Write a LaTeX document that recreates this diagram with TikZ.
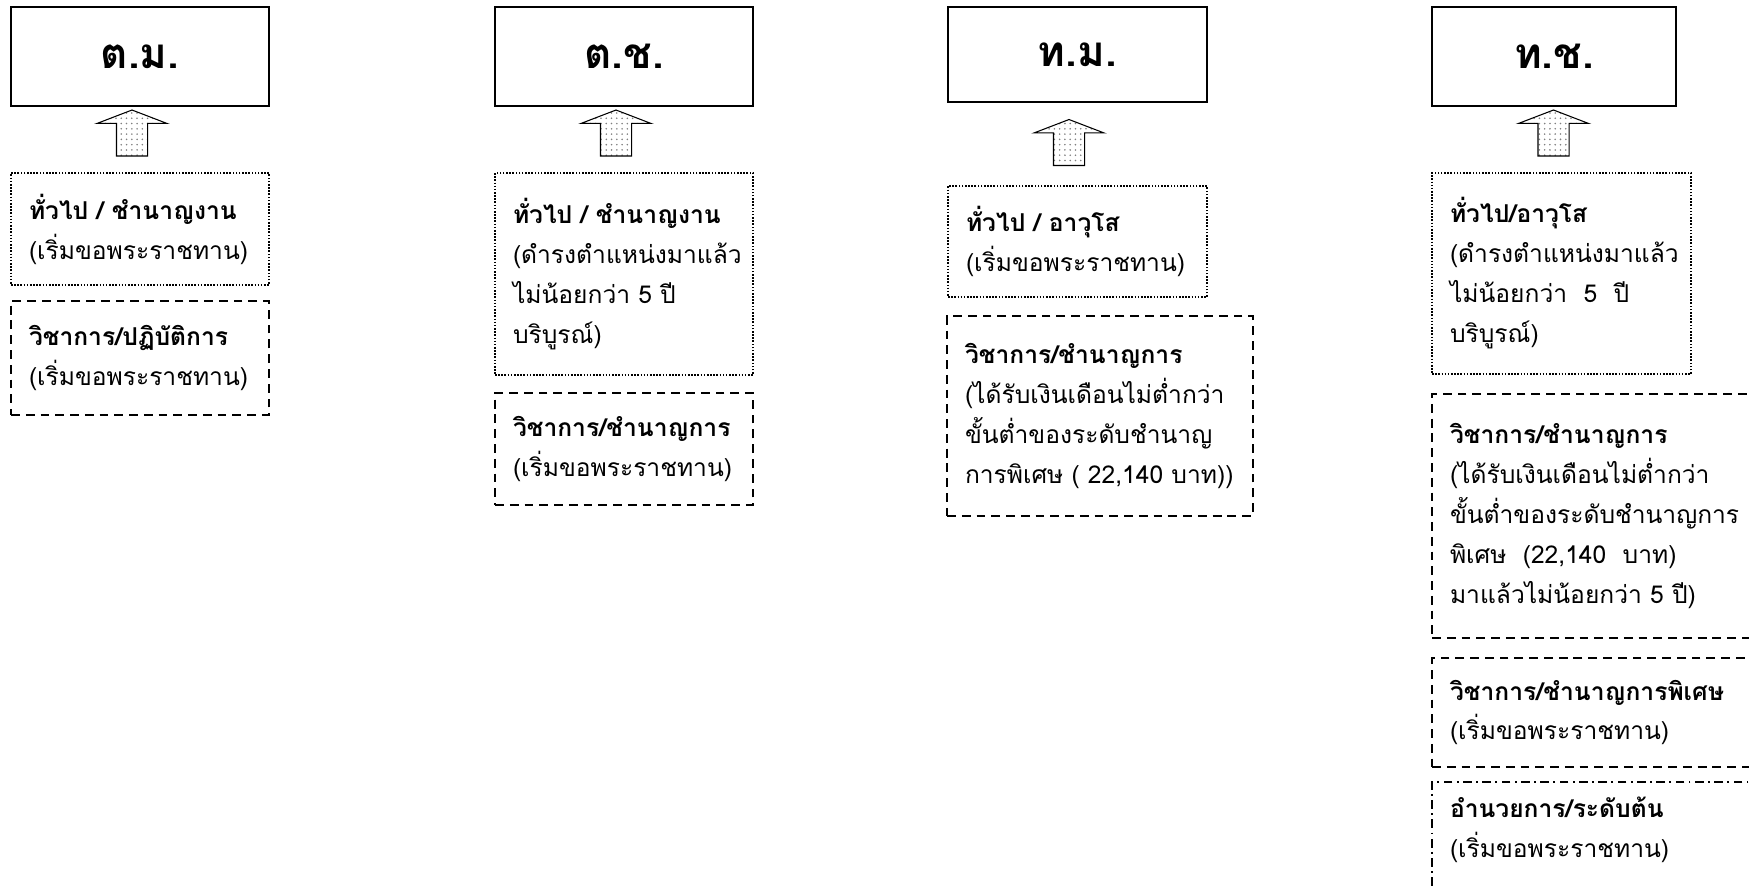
\documentclass[tikz,border=0pt]{standalone}
\usepackage{fontspec}
\setmainfont[Script=Thai]{Loma}
\usepackage{tikz}
\usetikzlibrary{shapes.arrows,patterns}

\begin{document}
\begin{tikzpicture}
    \useasboundingbox (0,0) rectangle (34.98,-17.76);
    \clip (0,0) rectangle (34.98,-17.76);
    \begin{scope}[every node/.style={rectangle,draw=black,line width=1.2pt,minimum height=1.98cm,
        font=\fontsize{24}{28}\selectfont\bfseries}]
        \node[minimum width=5.16cm] (1) at (2.80,-1.13) {ต.ม.};
        \node[minimum width=5.16cm] (2) at (12.48,-1.13) {ต.ช.};
        \node[minimum width=5.18cm,minimum height=1.9cm] (3) at (21.55,-1.09) {ท.ม.};
        \node[minimum width=4.88cm] (4) at (31.08,-1.13) {ท.ช.};
    \end{scope}
    \begin{scope}[every node/.style={single arrow,draw=black,line width=0.6pt,rotate=90,
        pattern=dots,pattern color=gray,inner xsep=0pt,inner ysep=0.3cm,minimum height=0.92cm,
        minimum width=1.38cm,single arrow head extend=0.39cm,single arrow tip angle=138}]
        \node (a1) at (2.64,-2.72) {};
        \node (a2) at (12.32,-2.72) {};
        \node (a3) at (21.38,-2.91) {};
        \node (a4) at (31.07,-2.72) {};
    \end{scope}
    \begin{scope}[every node/.style={rectangle,draw=black,line width=0.9pt,dash pattern=on 0.9pt off 0.9pt,
        align=left,inner xsep=0.36cm,font=\fontsize{14}{22.76}\selectfont}]
        \node[text width=4.44cm,minimum height=2.24cm] (g1) at (2.80,-4.58)
            {\textbf{ทั่วไป / ชำนาญงาน}\\(เริ่มขอพระราชทาน)};
        \node[text width=4.44cm,minimum height=4.04cm] (g2) at (12.48,-5.48)
            {\textbf{ทั่วไป / ชำนาญงาน}\\(ดำรงตำแหน่งมาแล้ว\\ไม่น้อยกว่า 5 ปี\\บริบูรณ์)};
        \node[text width=4.46cm,minimum height=2.22cm] (g3) at (21.55,-4.83)
            {\textbf{ทั่วไป / อาวุโส}\\(เริ่มขอพระราชทาน)};
        \node[text width=4.46cm,minimum height=4.02cm] (g4) at (31.23,-5.47)
            {\textbf{ทั่วไป/อาวุโส}\\(ดำรงตำแหน่งมาแล้ว\\ไม่น้อยกว่า~ 5~ ปี\\บริบูรณ์)};
    \end{scope}
    \begin{scope}[every node/.style={rectangle,draw=black,line width=0.9pt,dash pattern=on 5pt off 3.4pt,
        align=left,inner xsep=0.36cm,font=\fontsize{14}{22.76}\selectfont}]
        \node[text width=4.44cm,minimum height=2.28cm] (v1) at (2.80,-7.16)
            {\textbf{วิชาการ/ปฏิบัติการ}\\(เริ่มขอพระราชทาน)};
        \node[text width=4.44cm,minimum height=2.24cm] (v2) at (12.48,-8.98)
            {\textbf{วิชาการ/ชำนาญการ}\\(เริ่มขอพระราชทาน)};
        \node[text width=5.40cm,minimum height=4.0cm] (v3) at (22.00,-8.32)
            {\textbf{วิชาการ/ชำนาญการ}\\(ได้รับเงินเดือนไม่ต่ำกว่า\\ขั้นต่ำของระดับชำนาญ\\การพิเศษ ( 22,140 บาท))};
        \node[text width=6.04cm,minimum height=4.88cm] (v4) at (32.02,-10.32)
            {\textbf{วิชาการ/ชำนาญการ}\\(ได้รับเงินเดือนไม่ต่ำกว่า\\ขั้นต่ำของระดับชำนาญการ\\พิเศษ~ (22,140~ บาท)\\มาแล้วไม่น้อยกว่า 5 ปี)};
        \node[text width=6.04cm,minimum height=2.18cm] (w4) at (32.02,-14.25)
            {\textbf{วิชาการ/ชำนาญการพิเศษ}\\(เริ่มขอพระราชทาน)};
        \node[text width=6.04cm,anchor=north,inner ysep=0.3cm,text depth=2.5cm,
            dash pattern=on 5pt off 2.5pt on 1pt off 2.5pt] (d4) at (32.02,-15.62)
            {\textbf{อำนวยการ/ระดับต้น}\\(เริ่มขอพระราชทาน)};
    \end{scope}
\end{tikzpicture}
\end{document}
